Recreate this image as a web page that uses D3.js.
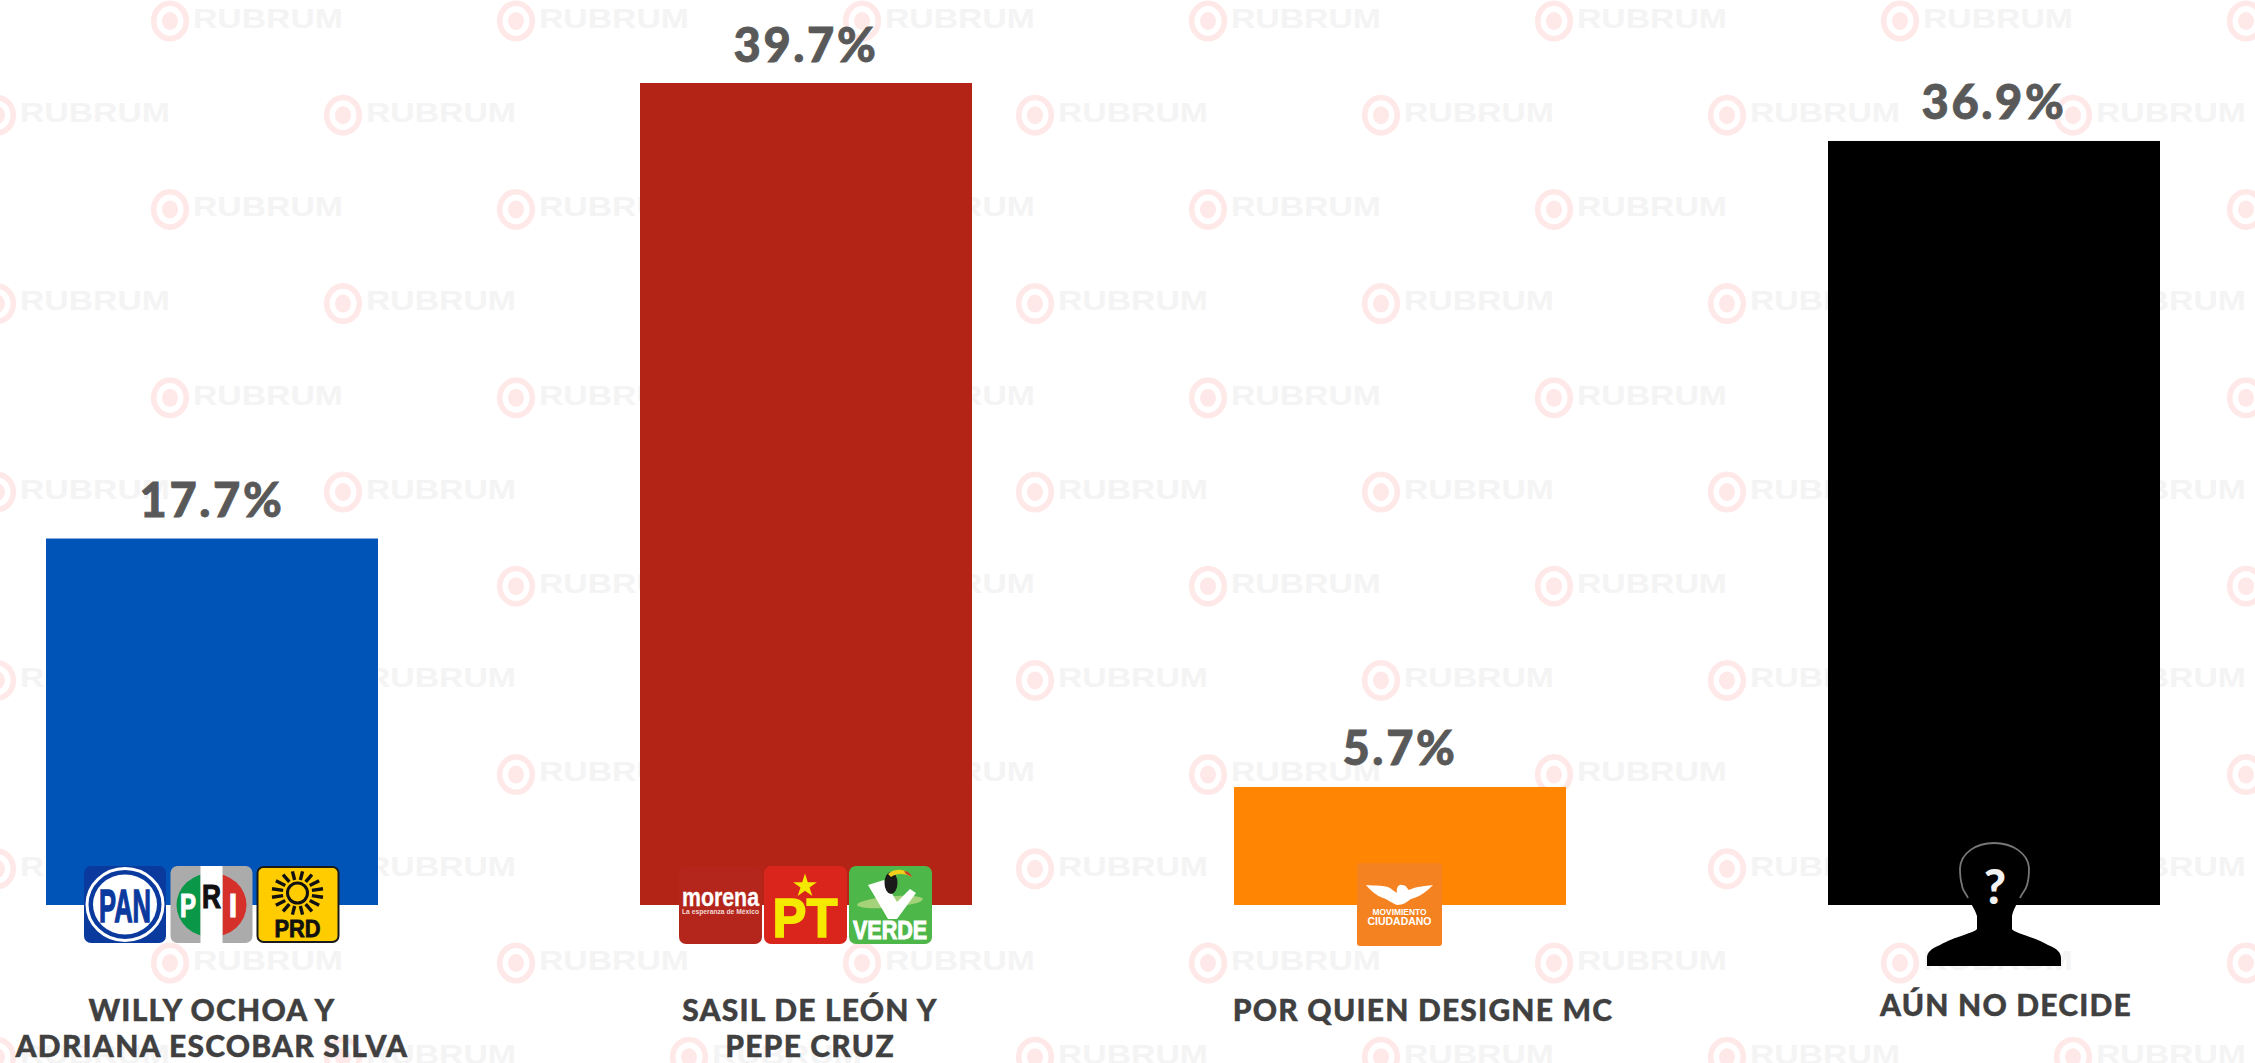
<!DOCTYPE html>
<html><head><meta charset="utf-8">
<style>html,body{margin:0;padding:0;background:#fff;overflow:hidden}svg{display:block}</style>
<script src="https://cdnjs.cloudflare.com/ajax/libs/d3/7.8.5/d3.min.js"></script>
</head><body><svg id="c" width="2255" height="1063"></svg>
<script>
const categories = ["A","B","C","D"];
const values = [17.7, 39.7, 5.7, 36.9];
const valueLabels = ["17.7%","39.7%","5.7%","36.9%"];
const nameLines = [["WILLY OCHOA Y","ADRIANA ESCOBAR SILVA"],["SASIL DE LEÓN Y","PEPE CRUZ"],["POR QUIEN DESIGNE MC"],["AÚN NO DECIDE"]];
const barColors = ["#0054b7","#b32316","#ff8503","#000000"];
const labelShift = [0,4,23,12];
const labelBase = [1021,1021,1021,1016];

const W=2255,H=1063,FONT="Lato, sans-serif";
const svg=d3.select("#c");
const x=d3.scaleBand().domain(categories).range([46,2160]).paddingInner(262/594).paddingOuter(0);
const y=d3.scaleLinear().domain([0,39.7]).range([905,83]);

// watermark
const wm=svg.append("g");
d3.range(12).forEach(r=>{
  const y0=21+r*94.2, x0=(r%2===0?170:-3);
  d3.range(7).forEach(c=>{
    const g=wm.append("g").attr("transform",`translate(${x0+c*346},${y0})`);
    g.append("ellipse").attr("rx",16.3).attr("ry",17.7).attr("fill","none").attr("stroke","#ffe8e8").attr("stroke-width",5.6);
    g.append("ellipse").attr("rx",8).attr("ry",9).attr("fill","#ffe8e8");
    g.append("text").attr("x",23).attr("y",6.8).attr("font-family","'Liberation Sans',sans-serif").attr("font-weight",700)
      .attr("font-size",28).attr("fill","#f4f4f4").attr("textLength",150).attr("lengthAdjust","spacingAndGlyphs").text("RUBRUM");
  });
});

// bars
svg.append("g").selectAll("rect").data(categories).join("rect")
  .attr("x",d=>x(d)).attr("width",x.bandwidth())
  .attr("y",(d,i)=>y(values[i])).attr("height",(d,i)=>y(0)-y(values[i]))
  .attr("fill",(d,i)=>barColors[i]);

// value labels
svg.append("g").selectAll("text").data(categories).join("text")
  .attr("x",d=>x(d)+x.bandwidth()/2).attr("y",(d,i)=>y(values[i])-21.5)
  .attr("text-anchor","middle").attr("font-family",FONT).attr("font-weight",900).attr("font-size",47)
  .attr("letter-spacing",2.6).attr("fill","#595959").attr("stroke","#595959").attr("stroke-width",0.8).text((d,i)=>valueLabels[i]);

// category labels
categories.forEach((d,i)=>{
  nameLines[i].forEach((t,j)=>{
    svg.append("text").attr("x",x(d)+x.bandwidth()/2+labelShift[i]).attr("y",labelBase[i]+j*36)
      .attr("text-anchor","middle").attr("font-family",FONT).attr("font-weight",900).attr("font-size",30)
      .attr("letter-spacing",1.2).attr("fill","#404040").attr("stroke","#404040").attr("stroke-width",0.4).text(t);
  });
});

// logos
const txt=(g,t,xp,yp,size,fill,len,sw=0,weight=700,fam="'Liberation Sans',sans-serif")=>{
  const s=g.append("text").attr("x",xp).attr("y",yp).attr("text-anchor","middle").attr("font-family",fam)
    .attr("font-weight",weight).attr("font-size",size).attr("fill",fill).text(t);
  if(len) s.attr("textLength",len).attr("lengthAdjust","spacingAndGlyphs");
  if(sw) s.attr("stroke",fill).attr("stroke-width",sw);
  return s;
};
const tile=(px,py,w,h,fill,r=7)=>{
  const g=svg.append("g").attr("transform",`translate(${px},${py})`);
  g.append("rect").attr("width",w).attr("height",h).attr("rx",r).attr("fill",fill);
  return g;
};
const c1=x("A")+x.bandwidth()/2, c2=x("B")+x.bandwidth()/2, c3=x("C")+x.bandwidth()/2, c4=x("D")+x.bandwidth()/2;

// PAN
{const g=tile(c1-128,866,82,77,"#0b3a9e");
 g.append("ellipse").attr("cx",41).attr("cy",38.5).attr("rx",38).attr("ry",36).attr("fill","#0b3a9e").attr("stroke","#fff").attr("stroke-width",3);
 g.append("ellipse").attr("cx",41).attr("cy",38.5).attr("rx",32).attr("ry",30).attr("fill","#fff");
 txt(g,"PAN",41,55.5,46,"#0b3a9e",52,1.4);}
// PRI
{const g=tile(c1-41.5,866,82,77,"#ababab");
 const d=g.append("defs");
 d.append("clipPath").attr("id","pL").append("rect").attr("x",0).attr("y",0).attr("width",30).attr("height",77);
 d.append("clipPath").attr("id","pR").append("rect").attr("x",52).attr("y",0).attr("width",30).attr("height",77);
 g.append("ellipse").attr("cx",41).attr("cy",39).attr("rx",35).attr("ry",32).attr("fill","#0a9748").attr("clip-path","url(#pL)");
 g.append("ellipse").attr("cx",41).attr("cy",39).attr("rx",35).attr("ry",32).attr("fill","#d5302a").attr("clip-path","url(#pR)");
 g.append("rect").attr("x",30).attr("width",22).attr("height",77).attr("fill","#fff");
 txt(g,"P",17.5,51,33,"#fff",16,1.2);
 txt(g,"R",41,42,34,"#111",19,1.2);
 txt(g,"I",62.5,51,33,"#fff",8,1.2);}
// PRD
{const g=tile(c1+45.5,867,81,75,"#ffcc00",6);
 g.select("rect").attr("stroke","#1a1a1a").attr("stroke-width",2);
 g.append("circle").attr("cx",40).attr("cy",26).attr("r",10).attr("fill","none").attr("stroke","#111").attr("stroke-width",3);
 const rays=d3.range(16).map(i=>(i+0.5)*Math.PI/8);
 g.selectAll("line").data(rays).join("line")
  .attr("x1",a=>40+14*Math.cos(a)*1.05).attr("y1",a=>26+14*Math.sin(a)*0.95)
  .attr("x2",a=>40+26*Math.cos(a)).attr("y2",a=>26+22*Math.sin(a))
  .attr("stroke","#111").attr("stroke-width",3.4);
 txt(g,"PRD",40,70,23,"#111",46,0.8);}
// morena
{const g=tile(c2-127,866,83,78,"#b4261c");
 txt(g,"morena",41.5,40,25,"#fff",77,0.3);
 txt(g,"La esperanza de México",41.5,48,7,"#f3d9d5",77);}
// PT
{const g=tile(c2-42,866,83,78,"#da251c");
 const st=d3.symbol().type(d3.symbolStar).size(175)();
 g.append("path").attr("d",st).attr("transform","translate(41,20)").attr("fill","#f5e900");
 txt(g,"PT",41,71,56,"#f5e900",65,1.6);}
// VERDE
{const g=tile(c2+43,866,83,78,"#4eb74a");
 g.append("ellipse").attr("cx",41).attr("cy",36).attr("rx",33).attr("ry",5.5).attr("fill","#a4d27a").attr("transform","rotate(-5 41 36)");
 g.append("path").attr("d","M19,19L35,14L48,36L61,23L67,27L48,53L39,53Z").attr("fill","#fff");
 g.append("ellipse").attr("cx",42).attr("cy",17).attr("rx",6.5).attr("ry",11).attr("fill","#1a1a1a");
 g.append("path").attr("d","M39,8C45,2 58,2 63,11C56,7 47,7 42,11Z").attr("fill","#f1cf1b");
 g.append("path").attr("d","M55,5C59,5 62,8 63,11L57,8Z").attr("fill","#c9402c");
 txt(g,"VERDE",41,73,25,"#fff",74,1);}
// MC
{const g=tile(c3-43,863,85,83,"#f58220",3);
 g.append("path").attr("d","M9,22C18,23 28,22 33,25C36,27 38,29 40,30C39,26 41,21 45,22C50,22 50,26 52,27C58,24 67,23 76,22C70,28 63,34 54,36C50,39 46,42 40,42C35,40 30,36 26,35C20,33 14,28 9,22Z").attr("fill","#fff");
 txt(g,"MOVIMIENTO",42.5,52,8.4,"#fff",54);
 txt(g,"CIUDADANO",42.5,61.5,10.5,"#fff",64);}
// person
{const g=svg.append("g").attr("transform",`translate(${c4},843)`);
 const d="M-17,73C-20,64 -24,60 -26,55C-28,50 -32,47 -32,42C-34,36 -34,30 -34,25C-33,10 -18,0 0,0C18,0 34,10 35,25C35,30 35,36 33,42C32,47 28,50 26,55C24,60 20,64 18,73L18,86C18,89 40,94 54,102C64,106 67,110 67,115L67,123L-67,123L-67,115C-67,110 -64,106 -54,102C-40,94 -18,89 -17,86Z";
 g.append("path").attr("d",d).attr("fill","#000");
 g.append("path").attr("d","M-26,55C-28,50 -32,47 -32,42C-34,36 -34,30 -34,25C-33,10 -18,0 0,0C18,0 34,10 35,25C35,30 35,36 33,42C32,47 28,50 26,55")
   .attr("fill","none").attr("stroke","#777").attr("stroke-width",1.8);
 svg.append("text").attr("x",c4+1).attr("y",904).attr("text-anchor","middle").attr("font-family",FONT).attr("font-weight",900)
   .attr("font-size",48).attr("fill","#f2f2f2").text("?");}
</script></body></html>
